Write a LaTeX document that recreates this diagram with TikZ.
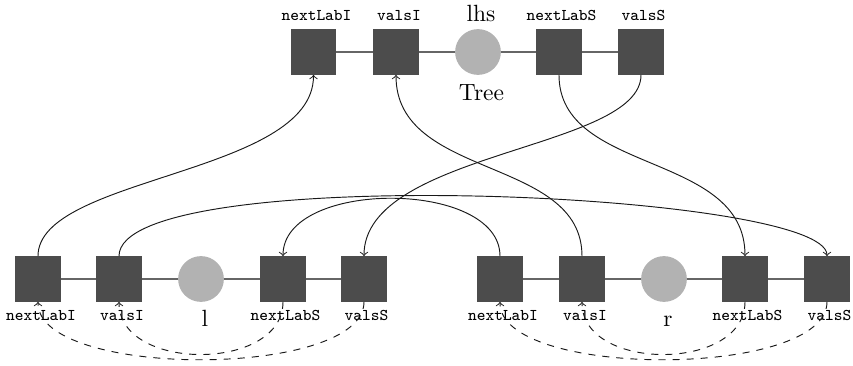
\documentclass[tikz,border=0pt]{standalone}
\begin{document}
\begin{tikzpicture}[x=0.426pt,y=-0.426pt,
  attr/.style={rectangle, fill=black!70, minimum size=19.5pt, inner sep=0pt, outer sep=0pt},
  tree/.style={circle, fill=black!30, minimum size=19.5pt, inner sep=0pt, outer sep=0pt},
  link/.style={draw=black!60, line width=0.9pt},
  dep/.style={->, black!90},
  local/.style={->, dashed, black!90},
  attrname/.style={font=\ttfamily\scriptsize, anchor=base, inner sep=0pt},
  treename/.style={anchor=base, inner sep=0pt}]
\useasboundingbox (0,0) rectangle (853,365);

% parent tree lhs
\node[attr] (tI) at (313.5,52) {};
\node[attr] (tV) at (396,52) {};
\node[tree] (tT) at (478,52) {};
\node[attr] (tS) at (559,52) {};
\node[attr] (tW) at (641,52) {};

% left child l
\node[attr] (lI) at (38,279) {};
\node[attr] (lV) at (119,279) {};
\node[tree] (lT) at (201,279) {};
\node[attr] (lS) at (283,279) {};
\node[attr] (lW) at (364,279) {};

% right child r
\node[attr] (rI) at (500,279) {};
\node[attr] (rV) at (582,279) {};
\node[tree] (rT) at (664,279) {};
\node[attr] (rS) at (745,279) {};
\node[attr] (rW) at (827,279) {};

% attribute and tree names
\node[attrname] (tIn) at (316.5,20.5) {nextLabI};
\node[attrname] (tVn) at (399,20.5) {valsI};
\node[treename] (tTn) at (481,21) {lhs};
\node[treename] (tTb) at (481.5,100) {Tree};
\node[attrname] (tSn) at (561.5,20.5) {nextLabS};
\node[attrname] (tWn) at (643.5,20.5) {valsS};

\node[attrname] (lIn) at (41,320.7) {nextLabI};
\node[attrname] (lVn) at (122,320.7) {valsI};
\node[treename] (lTn) at (205,326.7) {l};
\node[attrname] (lSn) at (285.5,320.7) {nextLabS};
\node[attrname] (lWn) at (366.5,320.7) {valsS};

\node[attrname] (rIn) at (503,320.7) {nextLabI};
\node[attrname] (rVn) at (585,320.7) {valsI};
\node[treename] (rTn) at (668,326.7) {r};
\node[attrname] (rSn) at (747.5,320.7) {nextLabS};
\node[attrname] (rWn) at (829.5,320.7) {valsS};

% rows
\draw[link] (tI) -- (tV) -- (tT) -- (tS) -- (tW);
\draw[link] (lI) -- (lV) -- (lT) -- (lS) -- (lW);
\draw[link] (rI) -- (rV) -- (rT) -- (rS) -- (rW);

% dependencies between parent and children
\draw[dep] (lI.north) .. controls +(0,-80) and +(0,100) .. (tI.south);
\draw[dep] (rV.north) .. controls +(0,-100) and +(0,105) .. (tV.south);
\draw[dep] (tS.south) .. controls +(0,100) and +(0,-105) .. (rS.north);
\draw[dep] (tW.south) .. controls +(0,75) and +(0,-105) .. (lW.north);
\draw[dep] (lV.north) .. controls +(0,-95) and +(0,-65) .. (rW.north);
\draw[dep] (rI.north) .. controls +(0,-77) and +(0,-77) .. (lS.north);

% dependencies inside the children
\draw[local] (lW.south) .. controls +(0,77) and +(0,77) .. (lI.south);
\draw[local] (lS.south) .. controls +(0,70) and +(0,70) .. (lV.south);
\draw[local] (rW.south) .. controls +(0,77) and +(0,77) .. (rI.south);
\draw[local] (rS.south) .. controls +(0,70) and +(0,70) .. (rV.south);
\end{tikzpicture}
\end{document}
